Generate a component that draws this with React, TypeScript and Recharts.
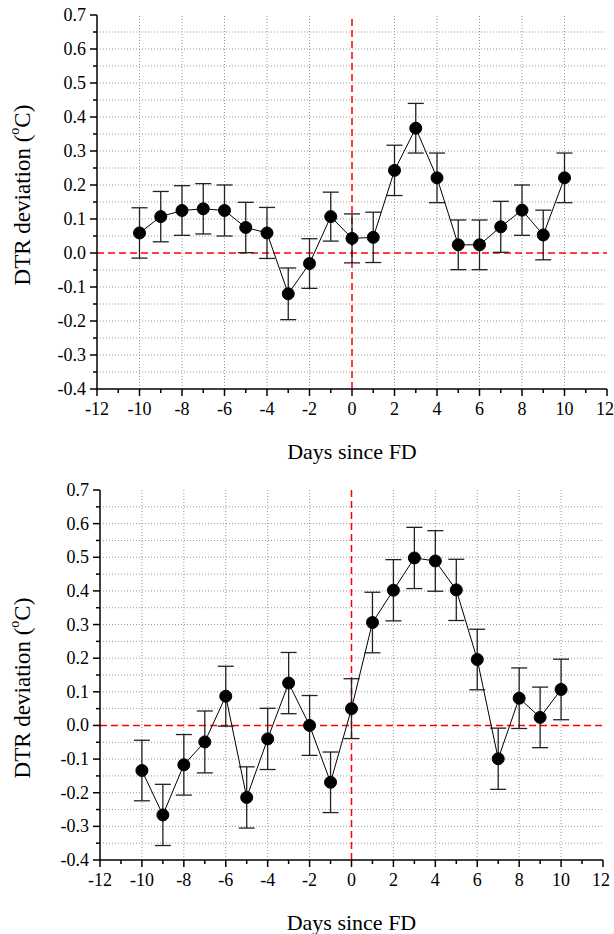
import { LineChart, Line, XAxis, YAxis, ErrorBar, ReferenceLine, Label } from "recharts";

const FONT = "Liberation Serif, DejaVu Serif, serif";
const TXT = { fontFamily: FONT };

const DAYS = [-10, -9, -8, -7, -6, -5, -4, -3, -2, -1, 0, 1, 2, 3, 4, 5, 6, 7, 8, 9, 10];

// upper panel
const TOP_MEAN = [0.059, 0.107, 0.125, 0.130, 0.125, 0.075, 0.059, -0.120, -0.031, 0.107, 0.043, 0.046, 0.243, 0.367, 0.221, 0.024, 0.024, 0.077, 0.126, 0.053, 0.221];
const TOP_ERR = [0.074, 0.074, 0.073, 0.074, 0.075, 0.074, 0.075, 0.076, 0.073, 0.072, 0.072, 0.074, 0.074, 0.073, 0.073, 0.073, 0.073, 0.075, 0.074, 0.073, 0.073];

// lower panel
const BOT_MEAN = [-0.134, -0.266, -0.117, -0.049, 0.087, -0.214, -0.040, 0.126, 0.000, -0.169, 0.050, 0.306, 0.402, 0.498, 0.489, 0.403, 0.196, -0.099, 0.081, 0.024, 0.107];
const BOT_ERR = [0.090, 0.091, 0.090, 0.092, 0.089, 0.091, 0.091, 0.091, 0.089, 0.090, 0.089, 0.090, 0.091, 0.091, 0.090, 0.091, 0.090, 0.091, 0.090, 0.090, 0.090];

const X_TICKS = [-12, -11, -10, -9, -8, -7, -6, -5, -4, -3, -2, -1, 0, 1, 2, 3, 4, 5, 6, 7, 8, 9, 10, 11, 12];
const Y_TICKS = [-0.4, -0.35, -0.3, -0.25, -0.2, -0.15, -0.1, -0.05, 0, 0.05, 0.1, 0.15, 0.2, 0.25, 0.3, 0.35, 0.4, 0.45, 0.5, 0.55, 0.6, 0.65, 0.7];
const GRID_X = [-10, -8, -6, -4, -2, 2, 4, 6, 8, 10];
const GRID_Y = [-0.35, -0.3, -0.25, -0.2, -0.15, -0.1, -0.05, 0.05, 0.1, 0.15, 0.2, 0.25, 0.3, 0.35, 0.4, 0.45, 0.5, 0.55, 0.6, 0.65];

function XTick({ x, y, payload }: any) {
  const v = payload.value;
  const major = v % 2 === 0;
  return (
    <g>
      <line x1={x} x2={x} y1={y} y2={y + (major ? 7 : 4)} stroke="#000" strokeWidth={1.5} />
      {major && (
        <text x={v === 12 ? x - 2 : x} y={y + 26} textAnchor="middle" fontSize={18} style={TXT} fill="#000">
          {v}
        </text>
      )}
    </g>
  );
}

function YTick({ x, y, payload }: any) {
  const v = payload.value;
  const major = Math.abs(Math.round(v * 100)) % 10 === 0;
  return (
    <g>
      <line x1={x} x2={x - (major ? 7 : 4)} y1={y} y2={y} stroke="#000" strokeWidth={1.5} />
      {major && (
        <text x={x - 11} y={y} dy={6} textAnchor="end" fontSize={18} style={TXT} fill="#000">
          {v.toFixed(1)}
        </text>
      )}
    </g>
  );
}

function Panel({ mean, err, top, height, margin, yLabelShift }: any) {
  const data = DAYS.map((d, i) => ({ day: d, v: mean[i], e: err[i] }));
  return (
    <div style={{ position: "absolute", left: 0, top }}>
      <LineChart width={614} height={height} data={data} margin={margin}>
        <XAxis
          dataKey="day"
          type="number"
          domain={[-12, 12]}
          ticks={X_TICKS}
          interval={0}
          tickSize={0}
          tickMargin={0}
          tickLine={false}
          tick={<XTick />}
          height={30}
          axisLine={{ stroke: "#000", strokeWidth: 1.5 }}
        >
          <Label
            content={({ viewBox }: any) => (
              <text
                x={viewBox.x + viewBox.width / 2}
                y={viewBox.y + 70}
                textAnchor="middle"
                fontSize={22}
                style={TXT}
                fill="#000"
              >
                Days since FD
              </text>
            )}
          />
        </XAxis>
        <YAxis
          type="number"
          domain={[-0.4, 0.7]}
          ticks={Y_TICKS}
          interval={0}
          allowDataOverflow
          tickSize={0}
          tickMargin={0}
          tickLine={false}
          tick={<YTick />}
          width={60}
          axisLine={{ stroke: "#000", strokeWidth: 1.5 }}
        >
          <Label
            content={({ viewBox }: any) => {
              const cx = 22;
              const cy = viewBox.y + viewBox.height / 2 + yLabelShift;
              return (
                <text
                  x={cx}
                  y={cy}
                  transform={`rotate(-90 ${cx} ${cy})`}
                  textAnchor="middle"
                  dominantBaseline="central"
                  fontSize={23}
                  style={TXT}
                  fill="#000"
                >
                  DTR deviation (
                  <tspan fontSize={14} dy={-8}>o</tspan>
                  <tspan dy={8}>C)</tspan>
                </text>
              );
            }}
          />
        </YAxis>
        {GRID_Y.map((g) => (
          <ReferenceLine key={"gy" + g} y={g} stroke="#999" strokeDasharray="1 2" strokeWidth={1} />
        ))}
        {GRID_X.map((g) => (
          <ReferenceLine key={"gx" + g} x={g} stroke="#999" strokeDasharray="1 2" strokeWidth={1} />
        ))}
        <ReferenceLine y={0} stroke="#ff0000" strokeDasharray="7 4" strokeWidth={1.5} />
        <ReferenceLine x={0} stroke="#ff0000" strokeDasharray="7 4" strokeWidth={1.5} />
        <Line
          type="linear"
          dataKey="v"
          stroke="#000"
          strokeWidth={1}
          dot={{ r: 6, fill: "#000", stroke: "#000", strokeWidth: 1 }}
          isAnimationActive={false}
        >
          <ErrorBar dataKey="e" direction="y" width={8} stroke="#222" strokeWidth={1.3} isAnimationActive={false} />
        </Line>
      </LineChart>
    </div>
  );
}

export default function App() {
  return (
    <div style={{ position: "absolute", left: 0, top: 0, width: 614, height: 934, fontFamily: FONT }}>
      <Panel
        mean={TOP_MEAN}
        err={TOP_ERR}
        top={0}
        height={475}
        margin={{ top: 15, right: 7, bottom: 56, left: 37 }}
        yLabelShift={-7}
      />
      <Panel
        mean={BOT_MEAN}
        err={BOT_ERR}
        top={475}
        height={459}
        margin={{ top: 15, right: 11, bottom: 44, left: 40 }}
        yLabelShift={13}
      />
    </div>
  );
}
